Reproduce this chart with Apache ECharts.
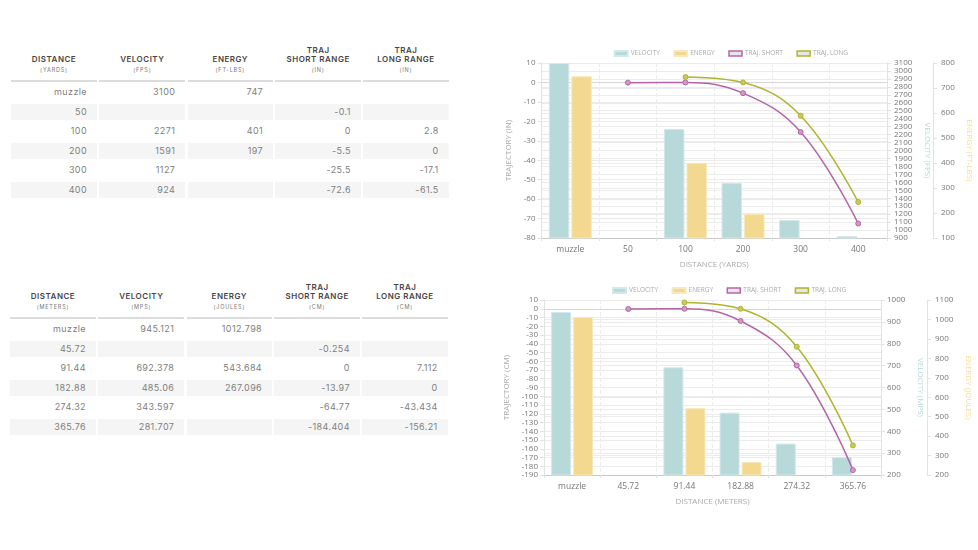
<!DOCTYPE html>
<html>
<head>
<meta charset="utf-8" />
<title>Ballistics</title>
<script src="https://cdn.jsdelivr.net/npm/echarts@6/dist/echarts.min.js"></script>
<style>
	html, body { margin: 0; padding: 0; background: #fff; width: 978px; height: 550px; overflow: hidden; }
	.tbl { position: absolute; display: grid; grid-template-columns: 86px 86px 85.5px 85.5px 85.5px; column-gap: 2.3px; font-family: Inter, sans-serif; }
	.tbl .head { height: 39px; border-bottom: 2px solid #dcdcdc; text-align: center; display: flex; flex-direction: column; justify-content: flex-end; padding-bottom: 7px; color: #4a4545; font-size: 8px; font-weight: 600; line-height: 9px; letter-spacing: .5px; white-space: pre-line; }
	.tbl .head small { display: block; margin-top: 3px; font-size: 5.5px; line-height: 6px; font-weight: 400; color: #777; letter-spacing: .8px; }
	.tbl .cell { height: 16.5px; line-height: 16.5px; margin-top: 3px; padding-right: 10px; text-align: right; color: #808080; font-size: 9px; letter-spacing: .4px; }
	.tbl .cell.odd { background: #f5f5f5; }
	.tbl .first { margin-top: 2px; }
	.chart { position: absolute; }
</style>
</head>
<body>
<div class="tbl" id="tableYards" style="left:11px;top:34px"></div>
<div class="tbl" id="tableMeters" style="left:10px;top:271px"></div>
<div class="chart" id="chartYards" style="left:490px;top:40px;width:488px;height:240px"></div>
<div class="chart" id="chartMeters" style="left:490px;top:280px;width:488px;height:235px"></div>

<script>
// yards / fps / ft-lbs / inches
var yardsDistance = ['muzzle', '50', '100', '200', '300', '400'];
var yardsVelocity = [3100, null, 2271, 1591, 1127, 924];
var yardsEnergy = [747, null, 401, 197, null, null];
var yardsShort = [null, -0.1, 0, -5.5, -25.5, -72.6];
var yardsLong = [null, null, 2.8, 0, -17.1, -61.5];

// meters / mps / joules / cm
var metersDistance = ['muzzle', '45.72', '91.44', '182.88', '274.32', '365.76'];
var metersVelocity = [945.121, null, 692.378, 485.06, 343.597, 281.707];
var metersEnergy = [1012.798, null, 543.684, 267.096, null, null];
var metersShort = [null, -0.254, 0, -13.97, -64.77, -184.404];
var metersLong = [null, null, 7.112, 0, -43.434, -156.21];

var tealFill = '#b7d9da', tealLine = '#d3e8e9', teal = '#b4dadc';
var yellowFill = '#f3d88f', yellowLine = '#f8e8bd', yellow = '#f3dc9c';
var pink = '#b565a7', pinkDot = '#cf9bc6', olive = '#b0b42c', oliveDot = '#c7ca5f';
var greyText = '#777', lightText = '#a9a9a9', gridColor = '#ececec';

function buildTable(id, units, cols) {
	var heads = [
		['DISTANCE', units[0]],
		['VELOCITY', units[1]],
		['ENERGY', units[2]],
		['TRAJ\nSHORT RANGE', units[3]],
		['TRAJ\nLONG RANGE', units[3]]
	];
	var html = '';
	heads.forEach(function (h) {
		html += '<div class="head">' + h[0] + '<small>' + h[1] + '</small></div>';
	});
	cols[0].forEach(function (d, r) {
		cols.forEach(function (col) {
			var v = col[r] === null ? '' : col[r];
			html += '<div class="cell' + (r % 2 ? ' odd' : '') + (r === 0 ? ' first' : '') + '">' + v + '</div>';
		});
	});
	document.getElementById(id).innerHTML = html;
}

function valueAxis(name, position, offset, min, max, color, gap, margin) {
	return {
		type: 'value', name: name, nameLocation: 'middle', nameGap: gap, nameRotate: position === 'left' ? 90 : -90,
		nameTextStyle: { color: color, fontSize: 8, fontFamily: 'Open Sans' },
		position: position, offset: offset, min: min, max: max, interval: 100,
		axisLine: { show: true, lineStyle: { color: '#e2e2e2' } },
		axisTick: { show: true, length: 4, lineStyle: { color: '#e2e2e2' } },
		// lineHeight below the tick spacing, the crowded labels would get dropped otherwise
		axisLabel: {
			color: greyText, fontSize: 8, lineHeight: 6, margin: margin, fontFamily: 'Open Sans', showMinLabel: true, showMaxLabel: true,
			formatter: function (v) { return String(v); }
		},
		splitLine: { show: true, lineStyle: { color: gridColor, width: 1 } }
	};
}

function buildChart(id, c) {
	var chart = echarts.init(document.getElementById(id));
	var trajAxis = valueAxis(c.trajName, 'left', 0, c.trajMin, 10, lightText, c.trajGap, 6);
	trajAxis.interval = 10;
	var velAxis = valueAxis(c.velName, 'right', 0, c.velMin, c.velMax, teal, c.velGap, c.velMargin);
	var enAxis = valueAxis(c.enName, 'right', c.enOffset, c.enMin, c.enMax, yellow, c.enGap, 8);

	function lineSeries(name, data, color, dot) {
		return {
			name: name, type: 'line', yAxisIndex: 0, data: data, smooth: 0.4, connectNulls: false,
			symbol: 'circle', symbolSize: 5, z: 5,
			lineStyle: { color: color, width: 1.5 },
			itemStyle: { color: dot, borderColor: color, borderWidth: 1 }
		};
	}
	function barSeries(name, data, axis, fill, border) {
		return {
			name: name, type: 'bar', yAxisIndex: axis, data: data, barWidth: c.barWidth, barGap: '10%',
			itemStyle: { color: fill, borderColor: border, borderWidth: 1 }
		};
	}
	function legendBox(name, border) {
		return { name: name, icon: 'rect', itemStyle: { color: '#e6e6e6', borderColor: border, borderWidth: 1.5 }, lineStyle: { opacity: 0 } };
	}

	var shortLine = lineSeries('TRAJ. SHORT', c.short, pink, pinkDot);
	// slightly darker line at zero trajectory
	shortLine.markLine = { silent: true, symbol: 'none', label: { show: false }, z: 1, lineStyle: { color: '#d6d6d6', type: 'solid', width: 1 }, data: [{ yAxis: 0 }] };

	chart.setOption({
		animation: false,
		textStyle: { fontFamily: 'Open Sans' },
		legend: {
			top: c.legendTop, left: c.legendLeft, padding: 0, itemWidth: 13, itemHeight: 5, itemGap: 13.5,
			textStyle: { color: lightText, fontSize: 6.5, padding: [0, 0, 0, -2] },
			data: [
				{ name: 'VELOCITY', icon: 'rect' },
				{ name: 'ENERGY', icon: 'rect' },
				legendBox('TRAJ. SHORT', pink),
				legendBox('TRAJ. LONG', olive)
			]
		},
		grid: { left: c.left, right: c.right, top: c.top, bottom: c.bottom, outerBoundsMode: 'none' },
		xAxis: {
			type: 'category', data: c.labels, name: c.xName, nameLocation: 'middle', nameGap: 23,
			nameTextStyle: { color: lightText, fontSize: 8, fontFamily: 'Open Sans' },
			axisLine: { onZero: false, lineStyle: { color: '#c8c8c8' } },
			axisTick: { show: true, length: 3, lineStyle: { color: '#e2e2e2' } },
			axisLabel: { color: greyText, fontSize: 8.5, margin: 7, interval: 0 },
			splitLine: { show: true, lineStyle: { color: '#ececec', type: 'dashed', width: 1 } }
		},
		yAxis: [trajAxis, velAxis, enAxis],
		series: [
			barSeries('VELOCITY', c.velocity, 1, tealFill, tealLine),
			barSeries('ENERGY', c.energy, 2, yellowFill, yellowLine),
			shortLine,
			lineSeries('TRAJ. LONG', c.long, olive, oliveDot)
		]
	});
	return chart;
}

buildTable('tableYards', ['(YARDS)', '(FPS)', '(FT-LBS)', '(IN)'], [yardsDistance, yardsVelocity, yardsEnergy, yardsShort, yardsLong]);
buildTable('tableMeters', ['(METERS)', '(MPS)', '(JOULES)', '(CM)'], [metersDistance, metersVelocity, metersEnergy, metersShort, metersLong]);

buildChart('chartYards', {
	labels: yardsDistance, velocity: yardsVelocity, energy: yardsEnergy, short: yardsShort, long: yardsLong,
	xName: 'DISTANCE (YARDS)', trajName: 'TRAJECTORY (IN)', velName: 'VELOCITY (FPS)', enName: 'ENERGY (FT-LBS)',
	trajMin: -80, velMin: 900, velMax: 3100, enMin: 100, enMax: 800, enOffset: 46,
	trajGap: 27.5, velGap: 34, enGap: 30, velMargin: 7,
	left: 51.5, right: 91, top: 23, bottom: 42, barWidth: 20.5, legendTop: 10, legendLeft: 123.7
});
buildChart('chartMeters', {
	labels: metersDistance, velocity: metersVelocity, energy: metersEnergy, short: metersShort, long: metersLong,
	xName: 'DISTANCE (METERS)', trajName: 'TRAJECTORY (CM)', velName: 'VELOCITY (MPS)', enName: 'ENERGY (JOULES)',
	trajMin: -190, velMin: 200, velMax: 1000, enMin: 200, enMax: 1100, enOffset: 46,
	trajGap: 32, velGap: 33, enGap: 34, velMargin: 6,
	left: 54, right: 97, top: 20, bottom: 40, barWidth: 20, legendTop: 7, legendLeft: 122
});
</script>
</body>
</html>
